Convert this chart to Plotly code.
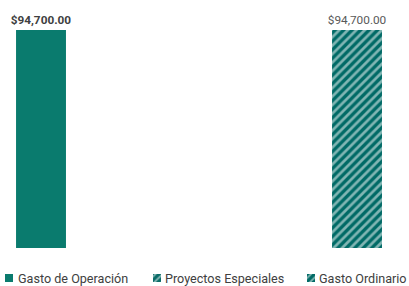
import plotly.graph_objects as go

series_names = ["Gasto de Operación", "Proyectos Especiales", "Gasto Ordinario"]
series_values = [94700, 0, 94700]
label_texts = ["$94,700.00", "", "$94,700.00"]
label_bold = [True, False, False]

colors = ["#0A7B6E", "#0A6C68", "#006A66"]
patterns = ["", "/", "/"]

W, H = 409, 286
# pixel layout
plot_top, plot_bottom = 30, 248
legend_swatch_x = [9, 157, 311]     # swatch centres (px)
legend_text_x = [16, 163, 317]      # legend text left edges (px)
legend_y = 278                      # legend row centre (px)

fig = go.Figure()
for i, name in enumerate(series_names):
    txt = label_texts[i]
    if txt and label_bold[i]:
        txt = "<b>" + txt + "</b>"
    fig.add_trace(go.Bar(
        x=[i], y=[series_values[i]], name=name,
        width=0.316,
        marker=dict(color=colors[i], line=dict(width=0),
                    pattern=dict(shape=patterns[i], fgcolor="white", bgcolor=colors[i],
                                 fillmode="overlay", size=6, solidity=0.45)),
        text=[txt], textposition="outside", cliponaxis=False,
        constraintext="none",
        textfont=dict(family="Roboto", size=11.8,
                      color="#404040" if label_bold[i] else "#595959"),
        hoverinfo="skip", showlegend=False,
    ))

# legend keys (swatches) drawn on their own pixel-scaled axis pair
for i, name in enumerate(series_names):
    fig.add_trace(go.Bar(
        x=[legend_swatch_x[i]], y=[1], width=8, xaxis="x2", yaxis="y2",
        marker=dict(color=colors[i], line=dict(width=0),
                    pattern=dict(shape=patterns[i], fgcolor="white", bgcolor=colors[i],
                                 fillmode="overlay", size=5, solidity=0.35)),
        hoverinfo="skip", showlegend=False,
    ))
    fig.add_annotation(
        xref="paper", yref="paper", x=legend_text_x[i] / W, y=(H - legend_y) / H,
        xanchor="left", yanchor="middle", showarrow=False,
        text=name,
        font=dict(family="Roboto", size=12.6, color="#404040"),
    )

fig.update_layout(
    width=W, height=H,
    margin=dict(l=0, r=0, t=0, b=0),
    paper_bgcolor="white", plot_bgcolor="white",
    barmode="overlay",
    showlegend=False,
    xaxis=dict(range=[-0.2595, 2.329], domain=[0, 1], visible=False, fixedrange=True),
    yaxis=dict(range=[0, 94700], domain=[(H - plot_bottom) / H, (H - plot_top) / H],
               visible=False, fixedrange=True),
    xaxis2=dict(range=[0, W], domain=[0, 1], anchor="y2", visible=False, fixedrange=True),
    yaxis2=dict(range=[0, 1], domain=[(H - legend_y - 4) / H, (H - legend_y + 4) / H],
                anchor="x2", visible=False, fixedrange=True),
)
fig.write_html("out.html", config={"displayModeBar": False},
               post_script="document.body.style.margin='0';document.body.style.overflow='hidden';")
